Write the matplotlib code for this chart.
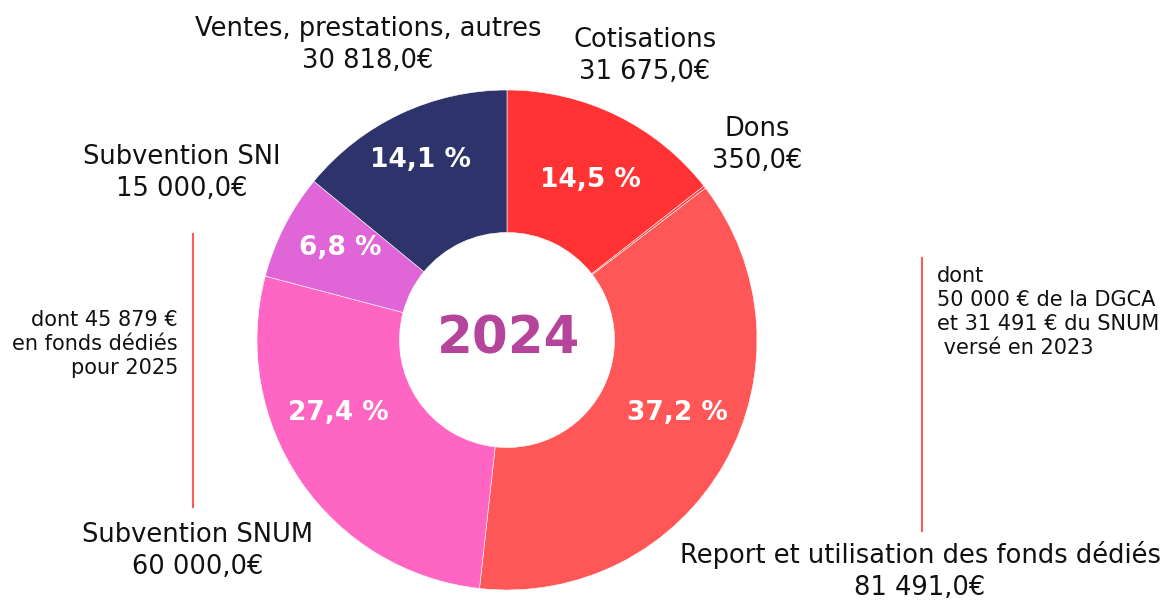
import matplotlib.pyplot as plt

categories = ["Cotisations", "Dons", "Report et utilisation des fonds dédiés",
              "Subvention SNUM", "Subvention SNI", "Ventes, prestations, autres"]
values = [31675.0, 350.0, 81491.0, 60000.0, 15000.0, 30818.0]
value_labels = ["31 675,0€", "350,0€", "81 491,0€", "60 000,0€", "15 000,0€", "30 818,0€"]
pct_labels = ["14,5 %", "", "37,2 %", "27,4 %", "6,8 %", "14,1 %"]
colors = ["#FF3333", "#FF3a3a", "#FF5757", "#FF66C4", "#E066D8", "#2E336B"]

# where the text sits (figure pixels, top-left origin)
label_pos = [(645, 56), (757, 145), (920, 571), (198, 551), (182, 173), (368, 45)]
pct_pos = [(590, 180), None, (677, 413), (338, 413), (340, 248), (420, 160)]

W, H = 1171, 603
plt.rcParams['font.family'] = ['DejaVu Sans']

fig = plt.figure(figsize=(W / 100, H / 100), dpi=100)
ax = fig.add_axes([0, 0, 1, 1])

cx, cy, R = 507, H - 340, 250
wedges, _ = ax.pie(values, colors=colors, startangle=90, counterclock=False,
                   center=(cx, cy), radius=R, frame=True,
                   wedgeprops=dict(width=R * 0.57, edgecolor='white', linewidth=0.4))
ax.set_xlim(0, W)
ax.set_ylim(0, H)
ax.set_aspect('equal')
ax.axis('off')

for p, pl in zip(pct_pos, pct_labels):
    if not pl:
        continue
    ax.text(p[0], H - p[1], pl, ha='center', va='center',
            color='white', fontsize=19, fontweight='bold')

for (x, y), c, v in zip(label_pos, categories, value_labels):
    ax.text(x, H - y, c + "\n" + v, ha='center', va='center', fontsize=18.5,
            color='#111111', linespacing=1.3)

ax.text(cx + 2, cy, "2024", ha='center', va='center', fontsize=37, fontweight='bold',
        color='#B5449B')

# side notes
ax.plot([922, 922], [H - 258, H - 531], color='#FF5B5B', lw=1.5)
ax.plot([193, 193], [H - 234, H - 507], color='#FF5B5B', lw=1.5)
ax.text(937, H - 266, "dont\n50 000 € de la DGCA\net 31 491 € du SNUM\n versé en 2023",
        ha='left', va='top', fontsize=15, color='#111111', linespacing=1.25)
ax.text(178, H - 310, "dont 45 879 €\nen fonds dédiés\npour 2025",
        ha='right', va='top', fontsize=15, color='#111111', linespacing=1.25)

fig.savefig("out.png", dpi=100, facecolor='white')
